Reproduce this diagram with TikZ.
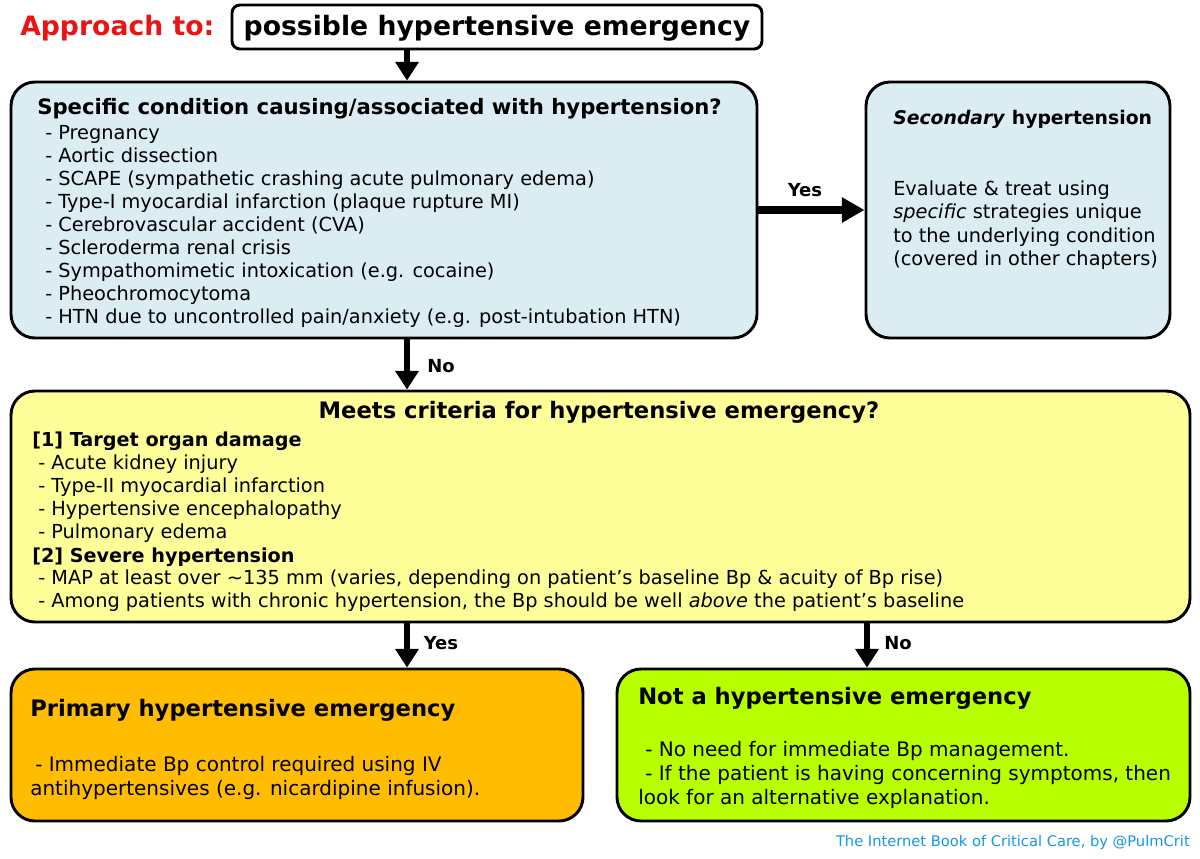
\documentclass[tikz,border=0pt]{standalone}
\usepackage{fontspec}
\setmainfont{DejaVu Sans}
\usetikzlibrary{arrows.meta}
\definecolor{boxblue}{RGB}{220,236,243}
\definecolor{boxyellow}{RGB}{255,255,153}
\definecolor{boxorange}{RGB}{255,188,0}
\definecolor{boxgreen}{RGB}{184,255,0}
\definecolor{apred}{RGB}{235,20,20}
\definecolor{footblue}{RGB}{20,150,230}
\begin{document}
\begin{tikzpicture}[x=0.75pt,y=-0.75pt,
  box/.style={draw=black, line width=2.2pt, rounded corners=18pt, inner sep=0pt},
  txt/.style={inner sep=0pt, anchor=base west, font=\fontsize{14.5}{17}\selectfont},
  hd/.style={inner sep=0pt, anchor=base west, font=\fontsize{14.4}{17}\selectfont\bfseries},
  bigtxt/.style={inner sep=0pt, anchor=base west, font=\fontsize{15}{18}\selectfont},
  bighd/.style={inner sep=0pt, anchor=base west, font=\fontsize{17}{20}\selectfont\bfseries},
  lbl/.style={inner sep=0pt, font=\fontsize{13.5}{16}\selectfont\bfseries},
  arr/.style={line width=5pt, -{Triangle[width=17pt,length=14pt]}},
]
\useasboundingbox (0,0) rectangle (1200,858);

% boxes
\node[box, rounded corners=6pt, fill=white, minimum width=397.5pt, minimum height=33pt] (top) at (497,27) {};
\node[box, fill=boxblue, minimum width=559.5pt, minimum height=192pt] (b1) at (384,210) {};
\node[box, fill=boxblue, minimum width=228pt, minimum height=192pt] (b2) at (1018,210) {};
\node[box, fill=boxyellow, minimum width=884.25pt, minimum height=173.25pt] (b3) at (600.5,506.5) {};
\node[box, fill=boxorange, minimum width=429pt, minimum height=114pt] (b4) at (297,745) {};
\node[box, fill=boxgreen, minimum width=429.75pt, minimum height=114pt] (b5) at (903.5,745) {};

% header
\node[inner sep=0pt, anchor=base west, font=\fontsize{20}{24}\selectfont\bfseries, text=apred] (ap) at (20,35) {Approach to:};
\node[inner sep=0pt, anchor=base, font=\fontsize{20}{24}\selectfont\bfseries] (tt) at (497,35) {possible hypertensive emergency};

% arrows
\coordinate (ax) at (407,0);
\coordinate (bx) at (867,0);
\draw[arr] (top.south -| ax) -- (b1.north -| ax);
\draw[line width=6.5pt, -{Triangle[width=18pt,length=17pt]}] (b1.east) -- (b2.west);
\draw[arr] (b1.south -| ax) -- (b3.north -| ax);
\draw[arr] (b3.south -| ax) -- (b4.north -| ax);
\draw[arr] (b3.south -| bx) -- (b5.north -| bx);
\node[lbl] (yes1) at (805,190) {Yes};
\node[lbl] (no1) at (441,366) {No};
\node[lbl] (yes2) at (441,643) {Yes};
\node[lbl] (no2) at (898,643) {No};

% box 1
\node[hd, font=\fontsize{15.9}{19}\selectfont\bfseries] (t1) at (37,114) {Specific condition causing/associated with hypertension?};
\foreach [count=\i] \t in {Pregnancy, Aortic dissection, SCAPE (sympathetic crashing acute pulmonary edema), Type-I myocardial infarction (plaque rupture MI), Cerebrovascular accident (CVA), Scleroderma renal crisis, Sympathomimetic intoxication (e.g. cocaine), Pheochromocytoma, HTN due to uncontrolled pain/anxiety (e.g. post-intubation HTN)}
  \node[txt] (b1i\i) at (45,{139.5+(\i-1)*23}) {- \t};

% box 2
\node[hd, font=\fontsize{14.1}{17}\selectfont\bfseries] (t2) at (893,124) {\textit{Secondary} hypertension};
\node[txt] (b2a) at (893,195) {Evaluate \& treat using};
\node[txt] (b2b) at (893,218.5) {\textit{specific} strategies unique};
\node[txt] (b2c) at (893,242) {to the underlying condition};
\node[txt] (b2d) at (893,265.5) {(covered in other chapters)};

% box 3
\node[hd, anchor=base, font=\fontsize{17}{20}\selectfont\bfseries] (t3) at (599,418) {Meets criteria for hypertensive emergency?};
\node[hd] (s1) at (32,446.7) {[1] Target organ damage};
\node[txt] (s1a) at (38,469) {- Acute kidney injury};
\node[txt] (s1b) at (38,492) {- Type-II myocardial infarction};
\node[txt] (s1c) at (38,515) {- Hypertensive encephalopathy};
\node[txt] (s1d) at (38,538) {- Pulmonary edema};
\node[hd] (s2) at (32,562) {[2] Severe hypertension};
\node[txt] (s2a) at (38,584) {- MAP at least over \textasciitilde 135 mm (varies, depending on patient’s baseline Bp \& acuity of Bp rise)};
\node[txt] (s2b) at (38,607) {- Among patients with chronic hypertension, the Bp should be well \textit{above} the patient’s baseline};

% box 4
\node[bighd] (t4) at (30,716) {Primary hypertensive emergency};
\node[bigtxt] (b4a) at (35,771) {- Immediate Bp control required using IV};
\node[bigtxt] (b4b) at (30,795) {antihypertensives (e.g. nicardipine infusion).};

% box 5
\node[bighd] (t5) at (638,704) {Not a hypertensive emergency};
\node[bigtxt] (b5a) at (645,756) {- No need for immediate Bp management.};
\node[bigtxt] (b5b) at (645,780) {- If the patient is having concerning symptoms, then};
\node[bigtxt] (b5c) at (638,804) {look for an alternative explanation.};

% footer
\node[inner sep=0pt, anchor=base east, font=\fontsize{11}{13}\selectfont, text=footblue] (ft) at (1190,846) {The Internet Book of Critical Care, by @PulmCrit};
\end{tikzpicture}
\end{document}
